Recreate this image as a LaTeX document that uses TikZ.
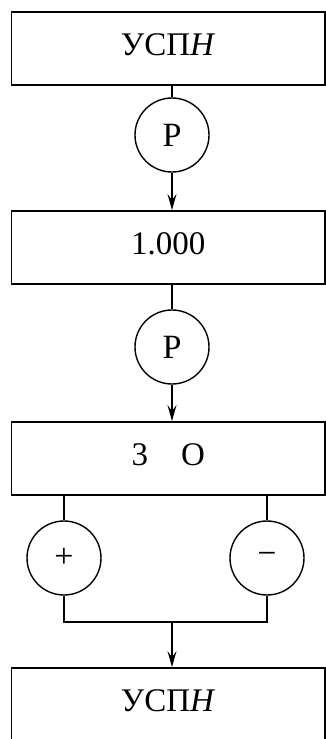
\documentclass[tikz,border=0pt]{standalone}
\usepackage{fontspec}
\setmainfont{Liberation Serif}
\usetikzlibrary{arrows.meta, positioning}

\begin{document}
\begin{tikzpicture}[x=0.5pt, y=-0.5pt,
    >={Stealth[length=8pt, width=4.5pt, inset=3pt]},
    blockbox/.style={draw, line width=0.9pt, minimum width=156.75pt,
      minimum height=36.5pt, inner sep=0pt, text depth=4pt,
      font=\fontsize{16.5}{19}\selectfont},
    opcircle/.style={draw, circle, line width=0.7pt, minimum size=37pt,
      inner sep=0pt, font=\fontsize{17}{19}\selectfont},
    link/.style={line width=0.7pt}]

  \clip (0,0) rectangle (326,739);

  % --- blocks ---
  \node[blockbox] (usptop) at (168.25,48.5) {УСП\textit{H}};
  \node[blockbox] (cmd)    at (168.25,247.5) {1.000};
  \node[blockbox] (zo)     at (168.25,458.5) {3\quad O};
  \node[blockbox] (uspbot) at (168.25,704.5) {УСП\textit{H}};

  % --- operation circles ---
  \node[opcircle] (opr1)   at (172,135) {Р};
  \node[opcircle] (opr2)   at (172,347) {Р};
  \node[opcircle] (opplus)  at (64,558) {+};
  \node[opcircle] (opminus) at (267,558) {\textminus};

  % --- main chain ---
  \draw[link] (usptop.south -| opr1) -- (opr1);
  \draw[link, ->] (opr1) -- (opr1 |- cmd.north);
  \draw[link] (cmd.south -| opr2) -- (opr2);
  \draw[link, ->] (opr2) -- (opr2 |- zo.north);

  % --- branch and merge ---
  \coordinate (merge) at (172,622);
  \draw[link] (zo.south -| opplus) -- (opplus);
  \draw[link] (zo.south -| opminus) -- (opminus);
  \draw[link] (opplus) |- (merge) -| (opminus);
  \draw[link, ->] (merge) -- (merge |- uspbot.north);

\end{tikzpicture}
\end{document}
